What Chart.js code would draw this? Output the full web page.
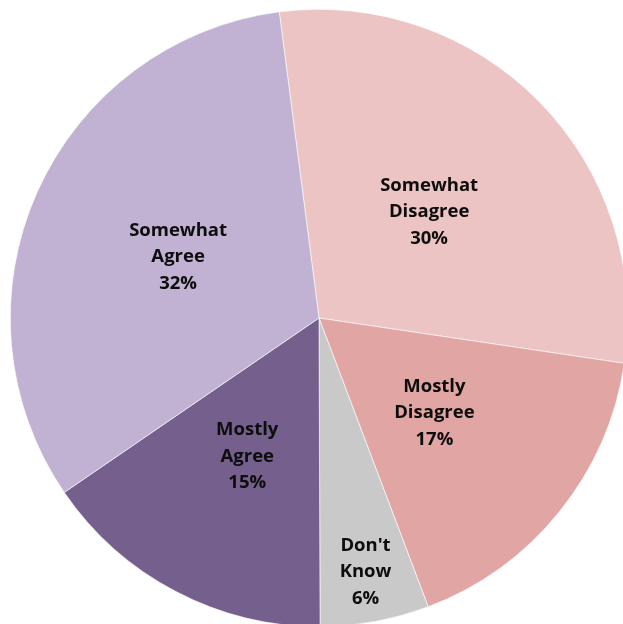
<!DOCTYPE html>
<html>
<head>
<meta charset="utf-8">
<script src="https://cdn.jsdelivr.net/npm/chart.js@4.4.1/dist/chart.umd.min.js"></script>
<style>
  html, body { margin: 0; padding: 0; background: #ffffff; overflow: hidden; }
  #wrap { position: absolute; left: 0; top: 0; width: 638px; height: 636px; }
</style>
</head>
<body>
<div id="wrap"><canvas id="pie"></canvas></div>
<script>
// Respuestas de la encuesta, en el orden en que se dibujan (horario desde arriba)
const categories = [['Somewhat', 'Disagree'], ['Mostly', 'Disagree'], ["Don't", 'Know'], ['Mostly', 'Agree'], ['Somewhat', 'Agree']];
const shares = [29.4, 16.9, 5.7, 15.5, 32.5];
const shareLabels = ['30%', '17%', '6%', '15%', '32%'];
const sliceColors = ['#ecc4c3', '#e1a5a3', '#c9c9c9', '#755f8c', '#c1b1d2'];

// distancia de la etiqueta desde el centro (fracción del radio)
const labelRadius = [0.5, 0.48, 0.83, 0.5, 0.5];

const sliceLabels = {
  id: 'sliceLabels',
  afterDatasetsDraw(chart) {
    const ctx = chart.ctx;
    const meta = chart.getDatasetMeta(0);
    ctx.save();
    ctx.font = 'bold 18.5px "Open Sans", sans-serif';
    ctx.fillStyle = '#0d0d0d';
    ctx.textAlign = 'center';
    ctx.textBaseline = 'middle';
    meta.data.forEach((arc, i) => {
      const mid = (arc.startAngle + arc.endAngle) / 2;
      const r = arc.outerRadius * labelRadius[i];
      const x = arc.x + Math.cos(mid) * r;
      const y = arc.y + Math.sin(mid) * r + 2;
      const lines = [...categories[i], shareLabels[i]];
      const lh = 26.5;
      lines.forEach((t, k) => ctx.fillText(t, x, y + (k - (lines.length - 1) / 2) * lh));
    });
    ctx.restore();
  },
};

new Chart(document.getElementById('pie'), {
  type: 'pie',
  data: {
    labels: categories.map((c) => c.join(' ')),
    datasets: [{
      data: shares,
      backgroundColor: sliceColors,
      borderColor: '#ffffff',
      borderWidth: 0.6,
    }],
  },
  options: {
    responsive: true,
    maintainAspectRatio: false,
    animation: false,
    rotation: -7.4,
    layout: { padding: { top: 9, bottom: 9, left: 10, right: 10 } },
    plugins: {
      legend: { display: false },
      tooltip: { enabled: false },
    },
  },
  plugins: [sliceLabels],
});
</script>
</body>
</html>
